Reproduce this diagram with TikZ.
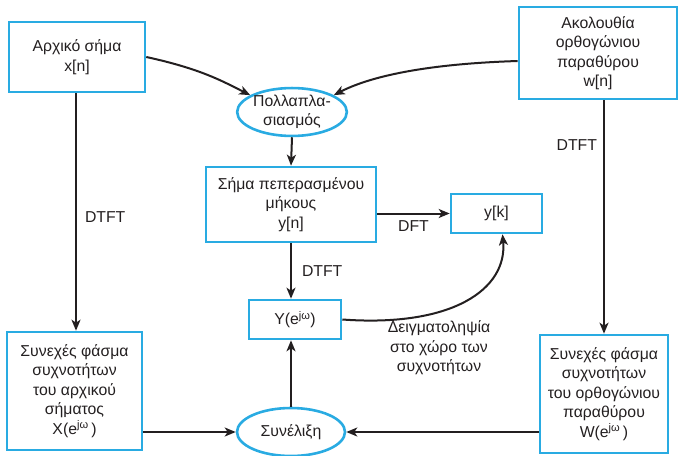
\documentclass[tikz,border=0pt]{standalone}
\usepackage{fontspec}
\setmainfont{Liberation Sans}
\usetikzlibrary{arrows.meta,shapes.geometric}
\definecolor{boxblue}{RGB}{41,171,226}
\definecolor{ink}{RGB}{35,31,32}
\tikzset{
  every node/.style={font=\fontsize{15.8}{19.4}\selectfont, text=ink, align=center, inner sep=0pt},
  blockbox/.style={draw=boxblue, line width=2.6pt, rectangle},
  opnode/.style={draw=boxblue, line width=2.6pt, ellipse},
  arr/.style={draw=ink, line width=2pt, -{Stealth[length=11pt,width=9pt,inset=3pt]}},
  lbl/.style={font=\fontsize{15.8}{19.4}\selectfont}
}
\begin{document}
\begin{tikzpicture}[x=1pt,y=-1pt]
\useasboundingbox (0,0) rectangle (679,455);
% blocks
\node[blockbox, minimum width=136pt, minimum height=70pt] (x) at (77,57) {Αρχικό σήμα\\x[n]};
\node[blockbox, minimum width=158pt, minimum height=92pt] (w) at (598,53) {Ακολουθία\\ορθογώνιου\\παραθύρου\\w[n]};
\node[opnode, minimum width=108pt, minimum height=44pt] (mul) at (292,112) {Πολλαπλα-\\σιασμός};
\node[blockbox, minimum width=170pt, minimum height=75pt] (y) at (291,204.5) {Σήμα πεπερασμένου\\μήκους\\y[n]};
\node[blockbox, minimum width=91pt, minimum height=39pt] (yk) at (496.5,213.5) {y[k]};
\node[blockbox, minimum width=92pt, minimum height=39pt] (Y) at (295,319.5) {Y(e\textsuperscript{jω})};
\node[blockbox, minimum width=135pt, minimum height=118pt] (X) at (74.5,391) {Συνεχές φάσμα\\συχνοτήτων\\του αρχικού\\σήματος\\X(e\textsuperscript{jω}\,)};
\node[blockbox, minimum width=128pt, minimum height=118pt] (W) at (604,394) {Συνεχές φάσμα\\συχνοτήτων\\του ορθογώνιου\\παραθύρου\\W(e\textsuperscript{jω}\,)};
\node[opnode, minimum width=108pt, minimum height=48pt] (conv) at (291,432) {Συνέλιξη};
% connectors
\draw[arr] (x.east) .. controls +(55,12) and +(-28,-14) .. (mul.158);
\draw[arr] (w.west |- 0,61) .. controls +(-95,3) and +(35,-18) .. (mul.22);
\draw[arr] (mul.south) -- (y.north);
\draw[arr] ([xshift=-1pt]x.south) -- ([xshift=-1pt]x.south |- X.north) node[pos=0.52, right=8pt, lbl] {DTFT};
\draw[arr] (W.north |- w.south) -- (W.north) node[pos=0.19, left=6pt, lbl] {DTFT};
\draw[arr] (y.east |- yk.west) -- (yk.west) node[midway, below=6pt, lbl] {DFT};
\draw[arr] (y.south) -- (Y.north -| y.south) node[midway, right=10pt, lbl] {DTFT};
\draw[arr] (Y.east) .. controls +(110,8) and +(5,55) .. ([xshift=6pt]yk.south);
\draw[arr] (conv.north) -- (Y.south -| conv.north);
\draw[arr] (X.east |- conv.west) -- (conv.west);
\draw[arr] (W.west |- conv.east) -- (conv.east);
\node[lbl] (samp) at (439,348) {Δειγματοληψία\\στο χώρο των\\συχνοτήτων};
\end{tikzpicture}
\end{document}
